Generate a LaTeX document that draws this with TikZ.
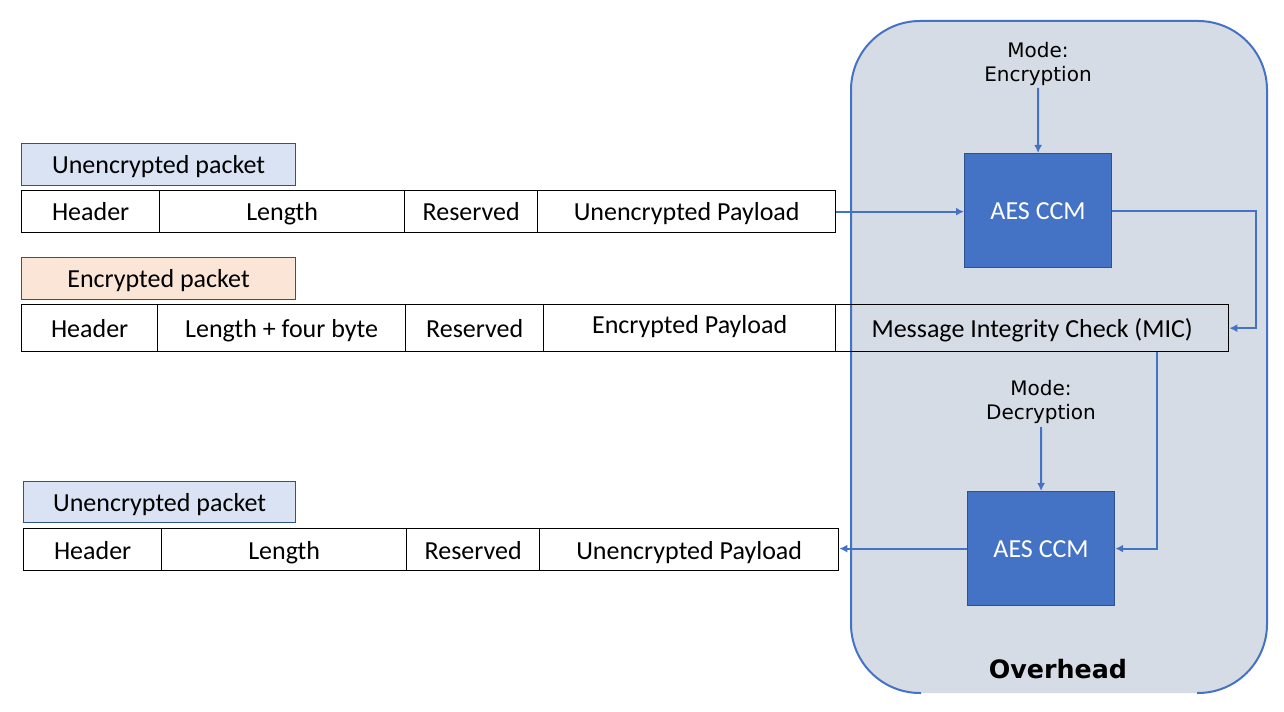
\documentclass[tikz,border=0pt]{standalone}
\usepackage{fontspec}
\setmainfont{Carlito}
\newfontfamily\dejavu{DejaVu Sans}
\usetikzlibrary{arrows.meta,calc}
\definecolor{ovfill}{RGB}{214,220,229}
\definecolor{accblue}{RGB}{68,114,196}
\definecolor{darkblue}{RGB}{47,82,143}
\definecolor{lblblue}{RGB}{218,227,243}
\definecolor{lblorange}{RGB}{251,229,214}
\begin{document}
\begin{tikzpicture}[x=0.75pt,y=-0.75pt,
  px/.style 2 args={minimum width=#1*0.75pt, minimum height=#2*0.75pt, inner sep=0pt, anchor=north west},
  txt/.style={font=\fontsize{19.5}{22}\selectfont, text height=16pt, text depth=2pt},
  cell/.style={txt, draw=black, line width=1pt, fill=white},
  opencell/.style={txt, draw=black, line width=1pt},
  lbl/.style={txt, draw=darkblue, line width=0.8pt},
  aes/.style={txt, draw=darkblue, line width=0.9pt, fill=accblue, text=white},
  modetxt/.style={font=\dejavu\fontsize{15}{17.3}\selectfont, align=center, inner sep=0pt},
  arr/.style={draw=accblue, line width=1.5pt, -{Latex[length=6pt,width=6pt]}}
]
\useasboundingbox (0,0) rectangle (1284,712);
% overhead region
\fill[ovfill, rounded corners=51.75pt] (851,21) rectangle (1267,693);
\draw[accblue, line width=1.5pt, rounded corners=51.75pt] (921,693) -- (851,693) -- (851,21) -- (1267,21) -- (1267,693) -- (1197,693);
\node[font=\dejavu\bfseries\fontsize{19}{22}\selectfont] (ovh) at (1058,669) {Overhead};

% row 1
\node[lbl, fill=lblblue, px={274}{42}] (l1) at (21,143) {Unencrypted packet};
\node[cell, px={138}{42}] (h1) at (21,190) {Header};
\node[cell, px={245}{42}] (n1) at (159,190) {Length};
\node[cell, px={133}{42}] (r1) at (404,190) {Reserved};
\node[cell, px={298}{42}] (p1) at (537,190) {Unencrypted Payload};

% row 2
\node[lbl, fill=lblorange, px={274}{42}] (l2) at (21,257) {Encrypted packet};
\node[cell, px={136}{47}] (h2) at (21,304) {Header};
\node[cell, px={248}{47}] (n2) at (157,304) {Length + four byte};
\node[cell, px={138}{47}] (r2) at (405,304) {Reserved};
\node[cell, px={292}{47}] (p2) at (543,304) {\raisebox{3pt}{Encrypted Payload}};
\node[opencell, px={393}{47}] (mic) at (835,304) {Message Integrity Check (MIC)};

% row 3
\node[lbl, fill=lblblue, px={272}{41}] (l3) at (23,481) {Unencrypted packet};
\node[cell, px={138}{42}] (h3) at (23,528) {Header};
\node[cell, px={245}{42}] (n3) at (161,528) {Length};
\node[cell, px={133}{42}] (r3) at (406,528) {Reserved};
\node[cell, px={299}{42}] (p3) at (539,528) {Unencrypted Payload};

% AES blocks
\node[aes, px={147}{114}] (aes1) at (964,153) {AES CCM};
\node[aes, px={147}{114}] (aes2) at (967,491) {AES CCM};

% mode labels
\node[modetxt] (m1) at (1038,64) {Mode:\\Encryption};
\node[modetxt] (m2) at (1041,402) {Mode:\\Decryption};

% connectors
\draw[arr] (m1.south |- 0,88) -- (aes1.north);
\draw[arr] (m2.south |- 0,427) -- (aes2.north);
\draw[arr] (p1.east) -- (p1.east -| aes1.west);
\draw[arr] (aes1.east) -- ++(144,0) |- (mic.east);
\draw[arr] ($(mic.south)+(124.5,0)$) |- (aes2.east);
\draw[arr] (aes2.west) -- (aes2.west -| p3.east);
\end{tikzpicture}
\end{document}
